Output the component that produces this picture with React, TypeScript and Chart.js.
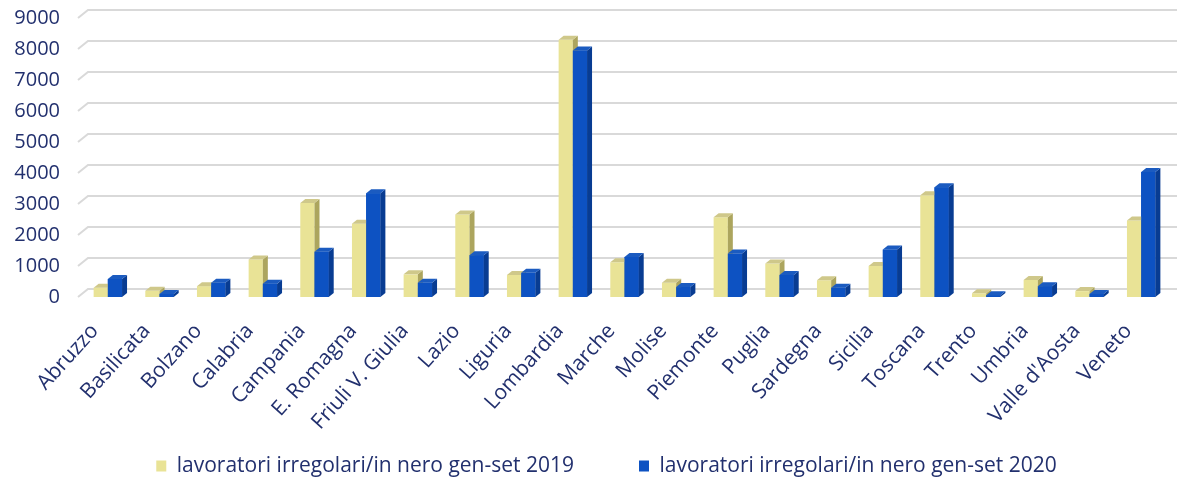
import React, { useEffect, useRef } from 'react';
import { Chart, registerables } from 'chart.js';
Chart.register(...registerables);

const regions = ['Abruzzo', 'Basilicata', 'Bolzano', 'Calabria', 'Campania', 'E. Romagna', 'Friuli V. Giulia', 'Lazio', 'Liguria', 'Lombardia', 'Marche', 'Molise', 'Piemonte', 'Puglia', 'Sardegna', 'Sicilia', 'Toscana', 'Trento', 'Umbria', "Valle d'Aosta", 'Veneto'];
const values2019 = [300, 200, 350, 1210, 3030, 2360, 730, 2660, 710, 8300, 1120, 460, 2570, 1080, 540, 1000, 3280, 120, 550, 190, 2470];
const values2020 = [580, 100, 460, 430, 1460, 3350, 460, 1350, 780, 7950, 1290, 320, 1400, 710, 300, 1530, 3540, 60, 350, 100, 4030];
const seriesLabels = ['lavoratori irregolari/in nero gen-set 2019', 'lavoratori irregolari/in nero gen-set 2020'];
const yTicks = [0, 1000, 2000, 3000, 4000, 5000, 6000, 7000, 8000, 9000];

const FRONT = ['#E9E396', '#0D52C2'];
const SIDE = ['#ACA55E', '#083C92'];
const TOP = ['#CFC88A', '#1B5BC0'];
const TEXT = '#22306E';
const FONT = '"Open Sans", sans-serif';

const WALL_DX = 10;
const WALL_DY = 8;
const BAR_DX = 5;
const BAR_DY = 4;
const LEGEND_PAD = 65;
const LEGEND_FONT = 21;

const depthPlugin = {
  id: 'depth3d',
  afterLayout(chart: any) {
    const lg = chart.legend;
    if (lg) {
      lg.top = 466 - LEGEND_PAD - LEGEND_FONT / 2;
      lg.bottom = chart.height;
      lg.height = lg.bottom - lg.top;
      lg.left += 19;
      lg.right += 19;
    }
  },
  beforeDatasetsDraw(chart: any) {
    const { ctx, chartArea, scales } = chart;
    const y = scales.y;
    ctx.save();
    ctx.strokeStyle = '#D9D9D9';
    ctx.lineWidth = 2;
    yTicks.forEach((v) => {
      const py = y.getPixelForValue(v);
      ctx.beginPath();
      ctx.moveTo(chartArea.left - 4, py);
      ctx.lineTo(chartArea.left + WALL_DX - 4, py - WALL_DY);
      ctx.lineTo(chartArea.right + WALL_DX, py - WALL_DY);
      ctx.stroke();
    });
    ctx.restore();
  },
  afterDatasetsDraw(chart: any) {
    const { ctx } = chart;
    const metas = [chart.getDatasetMeta(0), chart.getDatasetMeta(1)];
    const n = metas[0].data.length;
    ctx.save();
    for (let j = 0; j < n; j++) {
      metas.forEach((meta: any, i: number) => {
        const bar = meta.data[j];
        if (!bar) return;
        if (i > 0) bar.draw(ctx);
        const { x, y, base, width } = bar.getProps(['x', 'y', 'base', 'width'], true);
        const l = x - width / 2;
        const r = x + width / 2;
        ctx.fillStyle = SIDE[i];
        ctx.beginPath();
        ctx.moveTo(r, y);
        ctx.lineTo(r + BAR_DX, y - BAR_DY);
        ctx.lineTo(r + BAR_DX, base - BAR_DY);
        ctx.lineTo(r, base);
        ctx.closePath();
        ctx.fill();
        ctx.fillStyle = TOP[i];
        ctx.beginPath();
        ctx.moveTo(l, y);
        ctx.lineTo(l + BAR_DX, y - BAR_DY);
        ctx.lineTo(r + BAR_DX, y - BAR_DY);
        ctx.lineTo(r, y);
        ctx.closePath();
        ctx.fill();
      });
    }
    ctx.restore();
  },
};

export default function App() {
  const ref = useRef<HTMLCanvasElement | null>(null);
  useEffect(() => {
    if (!ref.current) return;
    const chart = new Chart(ref.current, {
      type: 'bar',
      data: {
        labels: regions,
        datasets: [
          { label: seriesLabels[0], data: values2019, backgroundColor: FRONT[0], borderWidth: 0 },
          { label: seriesLabels[1], data: values2020, backgroundColor: FRONT[1], borderWidth: 0 },
        ],
      },
      options: {
        animation: false,
        responsive: true,
        maintainAspectRatio: false,
        layout: { padding: { left: 8, right: 11, top: 18, bottom: 4 } },
        datasets: { bar: { categoryPercentage: 0.55, barPercentage: 1.0 } },
        plugins: {
          legend: {
            position: 'bottom',
            maxHeight: 40,
            labels: {
              color: TEXT,
              font: { family: FONT, size: LEGEND_FONT },
              boxWidth: 10,
              boxHeight: 11,
              padding: LEGEND_PAD,
            },
          },
          tooltip: { enabled: false },
        },
        scales: {
          x: {
            grid: { display: false },
            border: { display: false },
            ticks: {
              color: TEXT,
              font: { family: FONT, size: 21 },
              minRotation: 48,
              maxRotation: 48,
              padding: 14,
              labelOffset: -13,
              autoSkip: false,
            },
            afterFit(scale: any) {
              scale.height = 147;
            },
          },
          y: {
            min: 0,
            max: 9000,
            grid: { display: false, drawTicks: true, tickLength: 20 },
            border: { display: false },
            ticks: {
              stepSize: 1000,
              autoSkip: false,
              color: TEXT,
              font: { family: FONT, size: 20 },
              padding: 2,
              callback: (v: any) => String(v),
            },
            afterFit(scale: any) {
              scale.width = 74;
            },
          },
        },
      },
      plugins: [depthPlugin],
    });
    return () => chart.destroy();
  }, []);
  return (
    <div style={{ position: 'fixed', left: 0, top: 0, width: 1178, height: 488, background: '#fff' }}>
      <canvas ref={ref} />
    </div>
  );
}
